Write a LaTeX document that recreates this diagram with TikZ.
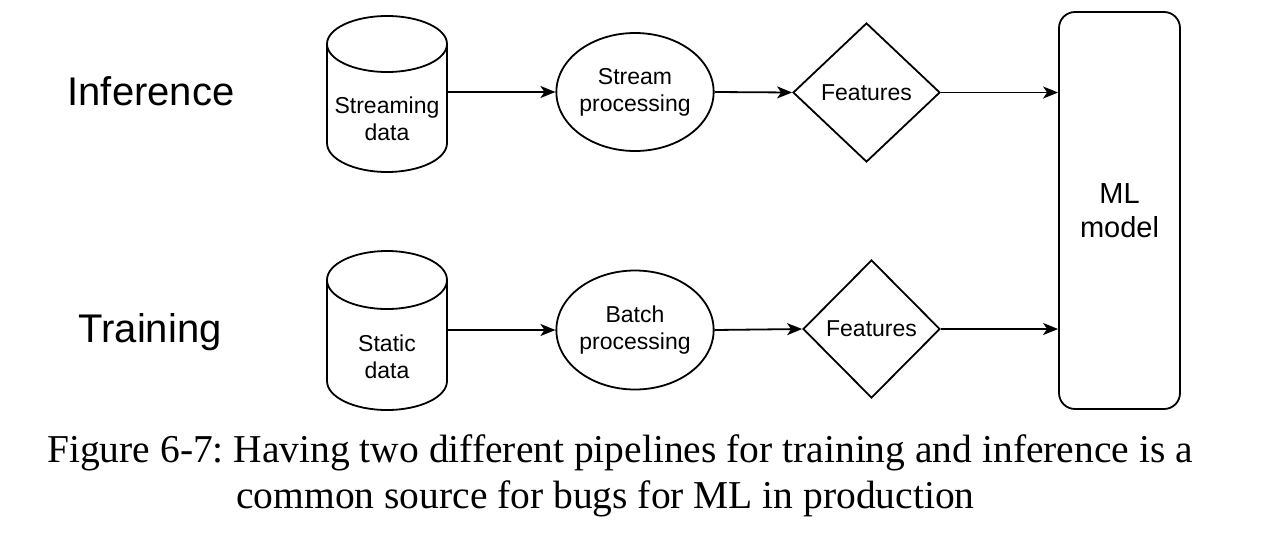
\documentclass[tikz,border=0pt]{standalone}
\usepackage{fontspec}
\setmainfont{Liberation Serif}
\newfontfamily\diagfont{Liberation Sans}
\usetikzlibrary{shapes.geometric,arrows.meta}
\frenchspacing
\begin{document}
\begin{tikzpicture}[x=1pt,y=-1pt,
  shapeline/.style={draw=black, line width=1.8pt},
  proc/.style={shapeline, ellipse, minimum width=140pt, minimum height=118pt, inner sep=0pt, align=center, font=\diagfont\fontsize{23}{27}\selectfont},
  feat/.style={shapeline, diamond, minimum width=147pt, minimum height=139pt, inner sep=0pt, font=\diagfont\fontsize{23}{27}\selectfont},
  cylframe/.style={minimum width=120pt, minimum height=156pt, inner sep=0pt},
  celltext/.style={align=center, font=\diagfont\fontsize{23}{27}\selectfont},
  rowlabel/.style={anchor=base west, font=\diagfont\fontsize{40}{48}\selectfont},
  model/.style={shapeline, rectangle, rounded corners=16pt, minimum width=121pt, minimum height=397pt, align=center, font=\diagfont\fontsize{29}{34}\selectfont},
  arr/.style={line width=1.8pt, -{Stealth[length=15pt,width=12pt,inset=4pt]}},
  captext/.style={anchor=base, font=\fontsize{39.5}{46}\selectfont}
]
\useasboundingbox (0,0) rectangle (1268,536);

% row labels
\node[rowlabel] (linf) at (64,105) {Inference};
\node[rowlabel] (ltrain) at (75,342) {Training};

% top cylinder
\node[cylframe] (sd) at (387,94) {};
\draw[shapeline] (327,44) -- (327,143) arc[start angle=180,end angle=360,x radius=60pt,y radius=29pt] -- (447,44);
\draw[shapeline] (387,44) ellipse[x radius=60pt, y radius=28pt];
\node[celltext] (sdt) at (387,119) {Streaming\\data};

% bottom cylinder
\node[cylframe, minimum height=159pt] (st) at (387,330.5) {};
\draw[shapeline] (327,280) -- (327,381) arc[start angle=180,end angle=360,x radius=60pt,y radius=29pt] -- (447,280);
\draw[shapeline] (387,280) ellipse[x radius=60pt, y radius=29pt];
\node[celltext] (stt) at (387,357) {Static\\data};

% processing
\node[proc] (sp) at (635,92) {Stream\\processing};
\node[proc, minimum height=119pt] (bp) at (635,330) {Batch\\processing};

% features
\node[feat] (f1) at (866.5,92.5) {Features};
\node[feat, minimum width=137pt, minimum height=138pt] (f2) at (871.5,329) {Features};

% model
\node[model] (ml) at (1119.5,210.5) {ML\\model};

% connectors
\draw[arr] (sd.east |- sp.west) -- (sp.west);
\draw[arr] (sp.east) -- (f1.west);
\draw[arr] (f1.east) -- (f1.east -| ml.west);
\draw[arr] (st.east |- bp.west) -- (bp.west);
\draw[arr] (bp.east) -- (f2.west);
\draw[arr] (f2.east) -- (f2.east -| ml.west);

% caption
\node[captext] (cap1) at (620,462) {Figure 6-7: Having two different pipelines for training and inference is a};
\node[captext] (cap2) at (605.5,508) {common source for bugs for ML in production};
\end{tikzpicture}
\end{document}
